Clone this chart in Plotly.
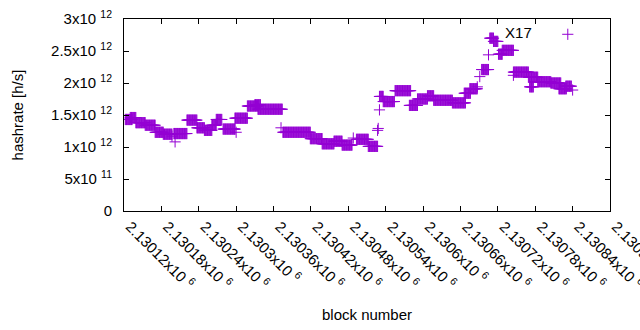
import plotly.graph_objects as go

BASE = 2130120
E12 = 1e12

# step runs: (first block offset, last block offset, hashrate in 1e12 h/s)
seg_start = [2, 10, 19, 34, 50, 63, 80, 101, 117, 129, 141, 148, 159, 178, 198, 210, 215, 255, 299, 318,
             337, 350, 373, 392, 410, 416, 435, 458, 471, 487, 497, 527, 546, 555, 574, 587, 593, 601, 607,
             625, 649, 651, 664, 685, 698, 709]
seg_end = [13, 19, 34, 50, 63, 77, 101, 117, 129, 141, 148, 157, 178, 198, 215, 219, 254, 299, 318, 337,
           350, 366, 392, 407, 416, 434, 460, 471, 487, 497, 527, 548, 556, 567, 585, 593, 600, 607, 625,
           649, 664, 657, 685, 701, 710, 718]
seg_value = [1.43, 1.46, 1.38, 1.34, 1.23, 1.20, 1.21, 1.42, 1.30, 1.26, 1.34, 1.43, 1.28, 1.45, 1.64, 1.66,
             1.59, 1.23, 1.13, 1.05, 1.09, 1.03, 1.12, 1.01, 1.79, 1.71, 1.88, 1.65, 1.75, 1.80, 1.73, 1.69,
             1.84, 1.91, 2.21, 2.70, 2.65, 2.45, 2.51, 2.17, 2.09, 1.94, 2.02, 2.00, 1.91, 1.95]

# isolated blocks
iso_offset = [77, 82, 178, 180, 252, 368, 407, 408, 410, 567, 571, 585, 625, 720]
iso_value = [1.17, 1.08, 1.28, 1.23, 1.30, 1.14, 1.26, 1.29, 1.58, 1.94, 2.10, 2.44, 2.12, 1.89]

x_tick_vals = [2130120, 2130180, 2130240, 2130300, 2130360, 2130420, 2130480, 2130540,
               2130600, 2130660, 2130720, 2130780, 2130840, 2130900]
x_tick_labels = ["2.13012x10 <sup>6</sup>", "2.13018x10 <sup>6</sup>", "2.13024x10 <sup>6</sup>",
                 "2.1303x10 <sup>6</sup>", "2.13036x10 <sup>6</sup>", "2.13042x10 <sup>6</sup>",
                 "2.13048x10 <sup>6</sup>", "2.13054x10 <sup>6</sup>", "2.1306x10 <sup>6</sup>",
                 "2.13066x10 <sup>6</sup>", "2.13072x10 <sup>6</sup>", "2.13078x10 <sup>6</sup>",
                 "2.13084x10 <sup>6</sup>", "2.1309x10 <sup>6</sup>"]
y_tick_vals = [0, 0.5e12, 1e12, 1.5e12, 2e12, 2.5e12, 3e12]
y_tick_labels = ["0", "5x10 <sup>11</sup>", "1x10 <sup>12</sup>", "1.5x10 <sup>12</sup>",
                 "2x10 <sup>12</sup>", "2.5x10 <sup>12</sup>", "3x10 <sup>12</sup>"]

blocks, rates = [], []
for s, e, v in zip(seg_start, seg_end, seg_value):
    for b in range(s, e + 1):
        blocks.append(BASE + b)
        rates.append(v * E12)
for b, v in zip(iso_offset, iso_value):
    blocks.append(BASE + b)
    rates.append(v * E12)

PURPLE = "#9400D3"
FONT = "Liberation Sans"

fig = go.Figure()
fig.add_trace(go.Scatter(
    x=blocks, y=rates, mode="markers", name="",
    marker=dict(symbol="cross-thin", size=8, line=dict(color=PURPLE, width=1), color=PURPLE),
    showlegend=True,
))

axis_common = dict(showline=True, mirror="ticks", linecolor="black", linewidth=1, automargin=False,
                   ticks="inside", ticklen=5, tickcolor="black", showgrid=False, zeroline=False,
                   ticklabeloverflow="allow",
                   tickfont=dict(family=FONT, size=15, color="black"))

fig.update_layout(
    template="none",
    width=640, height=330,
    margin=dict(l=124, r=30, t=19, b=119, autoexpand=False),
    paper_bgcolor="white", plot_bgcolor="white",
    font=dict(family=FONT, size=15, color="black"),
    xaxis=dict(range=[2130120, 2130900], tickmode="array", tickvals=x_tick_vals,
               ticktext=x_tick_labels, tickangle=45, ticklabelshift=6,
               title=dict(text="block number", font=dict(family=FONT, size=15), standoff=17),
               **axis_common),
    yaxis=dict(range=[0, 3e12], tickmode="array", tickvals=y_tick_vals, ticktext=y_tick_labels,
               ticklabelstandoff=8,
               title=dict(text="hashrate [h/s]", font=dict(family=FONT, size=15), standoff=23),
               **axis_common),
    legend=dict(x=0.78, y=1.005, xanchor="left", yanchor="top", bgcolor="rgba(0,0,0,0)",
                itemwidth=46,
                title=dict(text="X17", side="left", font=dict(family=FONT, size=15)),
                font=dict(family=FONT, size=15)),
)

fig.write_html("out.html", config={"displayModeBar": False},
               post_script="document.body.style.margin='0';document.body.style.overflow='hidden';")
